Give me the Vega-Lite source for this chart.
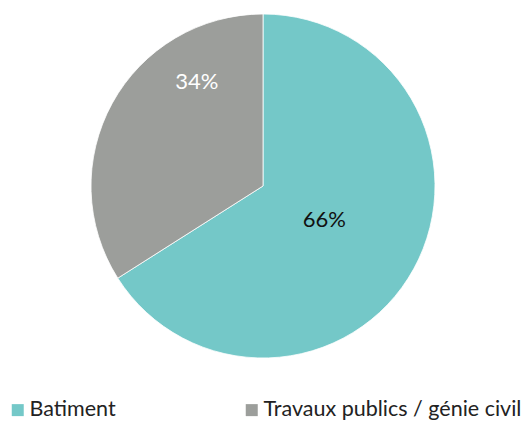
{
  "$schema": "https://vega.github.io/schema/vega-lite/v6.json",
  "width": 526,
  "height": 372,
  "padding": 0,
  "autosize": {"type": "pad"},
  "background": "white",
  "config": {"view": {"stroke": null}, "font": "Lato"},
  "data": {"values": [
    {"category": "Batiment", "share": 66, "label": "66%"},
    {"category": "Travaux publics / génie civil", "share": 34, "label": "34%"}
  ]},
  "encoding": {
    "theta": {"field": "share", "type": "quantitative", "stack": true},
    "order": {"field": "category", "sort": "ascending"}
  },
  "layer": [
    {
      "mark": {"type": "arc", "outerRadius": 172, "stroke": "white", "strokeWidth": 0.8},
      "encoding": {
        "color": {
          "field": "category", "type": "nominal",
          "scale": {"domain": ["Batiment", "Travaux publics / génie civil"], "range": ["#74C8C8", "#9C9E9B"]},
          "legend": {
            "title": null, "orient": "none", "direction": "horizontal",
            "legendX": 7, "legendY": 399, "padding": 0,
            "symbolType": "square", "symbolSize": 144, "symbolStrokeWidth": 0,
            "labelFontSize": 21.5, "labelColor": "#222222", "labelFont": "Lato",
            "labelOffset": 1, "columnPadding": 125, "labelLimit": 400
          }
        }
      }
    },
    {
      "mark": {"type": "text", "radius": 70, "fontSize": 22, "color": "#111111", "font": "Lato"},
      "encoding": {
        "text": {"field": "label"},
        "opacity": {"condition": {"test": "datum.category == 'Batiment'", "value": 1}, "value": 0}
      }
    },
    {
      "mark": {"type": "text", "radius": 120, "fontSize": 22, "color": "white", "font": "Lato", "dx": 39, "dy": -46},
      "encoding": {
        "text": {"field": "label"},
        "opacity": {"condition": {"test": "datum.category == 'Batiment'", "value": 0}, "value": 1}
      }
    }
  ]
}
